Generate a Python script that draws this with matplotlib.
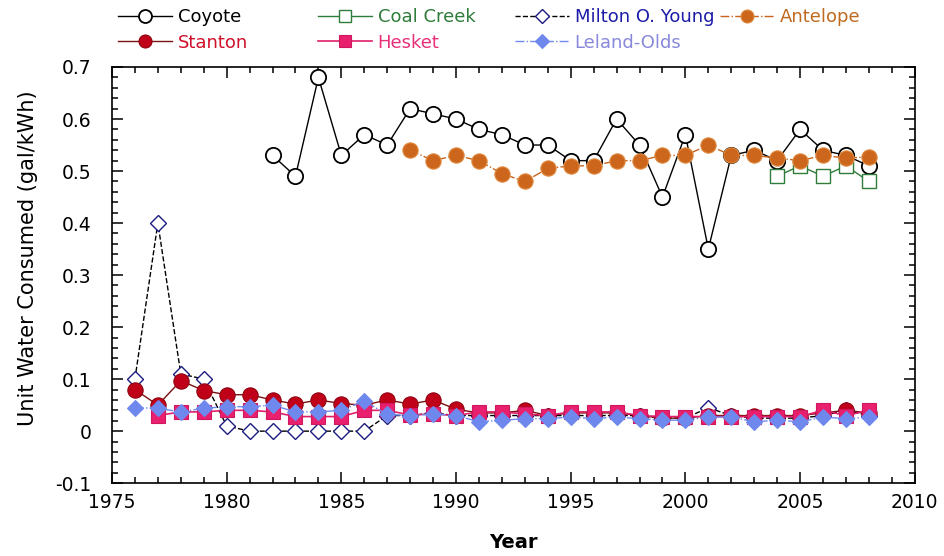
import matplotlib.pyplot as plt
from matplotlib.ticker import MultipleLocator

# Unit water consumption by plant (gal/kWh)
yrs_coyote = list(range(1982, 2009))
coyote = [0.53, 0.49, 0.68, 0.53, 0.57, 0.55, 0.62, 0.61, 0.60, 0.58, 0.57, 0.55, 0.55, 0.52,
          0.52, 0.60, 0.55, 0.45, 0.57, 0.35, 0.53, 0.54, 0.52, 0.58, 0.54, 0.53, 0.51]

yrs_coal = list(range(2004, 2009))
coal_creek = [0.49, 0.51, 0.49, 0.51, 0.48]

yrs_milton = list(range(1976, 2009))
milton = [0.10, 0.40, 0.11, 0.10, 0.01, 0.0, 0.0, 0.0, 0.0, 0.0, 0.0, 0.03, 0.03, 0.035,
          0.03, 0.03, 0.03, 0.03, 0.03, 0.03, 0.03, 0.03, 0.03, 0.025, 0.025, 0.045, 0.03,
          0.025, 0.025, 0.025, 0.03, 0.04, 0.03]

yrs_antelope = list(range(1988, 2009))
antelope = [0.54, 0.52, 0.53, 0.52, 0.495, 0.48, 0.505, 0.51, 0.51, 0.52, 0.52, 0.53, 0.53,
            0.55, 0.53, 0.53, 0.525, 0.52, 0.53, 0.525, 0.527]

yrs_stanton = list(range(1976, 2009))
stanton = [0.08, 0.05, 0.097, 0.078, 0.07, 0.07, 0.06, 0.052, 0.06, 0.053, 0.05, 0.06, 0.052,
           0.06, 0.042, 0.035, 0.035, 0.04, 0.03, 0.035, 0.035, 0.035, 0.03, 0.025, 0.025,
           0.03, 0.03, 0.03, 0.03, 0.03, 0.035, 0.04, 0.035]

yrs_hesket = list(range(1977, 2009))
hesket = [0.03, 0.037, 0.037, 0.04, 0.04, 0.037, 0.028, 0.028, 0.028, 0.04, 0.04, 0.031,
          0.033, 0.03, 0.037, 0.037, 0.033, 0.03, 0.037, 0.037, 0.037, 0.03, 0.028, 0.028,
          0.028, 0.028, 0.028, 0.028, 0.028, 0.04, 0.03, 0.04]

yrs_leland = list(range(1976, 2009))
leland = [0.045, 0.044, 0.037, 0.044, 0.047, 0.047, 0.05, 0.037, 0.037, 0.04, 0.058, 0.032,
          0.03, 0.033, 0.03, 0.018, 0.021, 0.024, 0.024, 0.027, 0.024, 0.027, 0.024, 0.021,
          0.021, 0.027, 0.027, 0.018, 0.021, 0.018, 0.027, 0.024, 0.027]

plt.rcParams['font.family'] = 'DejaVu Sans'

fig = plt.figure(figsize=(9.45, 5.56), dpi=100)
ax = fig.add_axes([0.1185, 0.131, 0.8495, 0.7485])

h_coyote, = ax.plot(yrs_coyote, coyote, color='black', lw=1, marker='o', ms=11,
                    mfc='white', mec='black', mew=1.3, label='Coyote', zorder=3)
h_coal, = ax.plot(yrs_coal, coal_creek, color='#2e7d3a', lw=1, marker='s', ms=10,
                  mfc='white', mec='#2e7d3a', mew=1, label='Coal Creek', zorder=3)
h_ant, = ax.plot(yrs_antelope, antelope, color='#c8641e', lw=1, ls='-.', marker='o', ms=11,
                 mfc='#cc661c', mec='#e08a40', mew=0.8, label='Antelope', zorder=4)
h_milton, = ax.plot(yrs_milton, milton, color='black', lw=1, ls='--', marker='D', ms=8,
                    mfc='white', mec='#1c1c80', mew=1, label='Milton O. Young', zorder=4)
h_stanton, = ax.plot(yrs_stanton, stanton, color='#7a1010', lw=1, marker='o', ms=11,
                     mfc='#c00018', mec='#900010', mew=0.8, label='Stanton', zorder=5)
h_hesket, = ax.plot(yrs_hesket, hesket, color='#e0206a', lw=1.2, marker='s', ms=10,
                    mfc='#e8206e', mec='#d01860', mew=0.8, label='Hesket', zorder=6)
h_leland, = ax.plot(yrs_leland, leland, color='#6f88ee', lw=1, ls='-.', marker='D', ms=8,
                    mfc='#6f88ee', mec='#6f88ee', mew=0.8, label='Leland-Olds', zorder=7)

ax.set_xlim(1975, 2010)
ax.set_ylim(-0.1, 0.7)
ax.xaxis.set_major_locator(MultipleLocator(5))
ax.xaxis.set_minor_locator(MultipleLocator(1))
ax.yaxis.set_major_locator(MultipleLocator(0.1))
ax.yaxis.set_minor_locator(MultipleLocator(0.02))
ax.set_yticks([-0.1, 0, 0.1, 0.2, 0.3, 0.4, 0.5, 0.6, 0.7])
ax.set_yticklabels(['-0.1', '0', '0.1', '0.2', '0.3', '0.4', '0.5', '0.6', '0.7'])
ax.tick_params(which='both', direction='in', top=True, right=True, width=1.1, labelsize=13.5)
ax.tick_params(which='major', length=8)
ax.tick_params(which='minor', length=4)
ax.tick_params(axis='y', pad=15)
ax.tick_params(axis='x', pad=7)
for s in ax.spines.values():
    s.set_linewidth(1.2)

ax.set_ylabel('Unit Water Consumed (gal/kWh)', fontsize=15)
ax.yaxis.set_label_coords(-0.092, 0.54)
ax.set_xlabel('Year', fontsize=14, fontweight='bold')
ax.xaxis.set_label_coords(0.5, -0.12)

# legend: four columns placed by hand above the axes
cols = [
    ([h_coyote, h_stanton], ['black', '#d0102a'], 118),
    ([h_coal, h_hesket], ['#2e7d3a', '#e8307a'], 318),
    ([h_milton, h_leland], ['#1c1ca8', '#8888dd'], 515),
    ([h_ant], ['#c06a20'], 720),
]
for handles, colors, xpix in cols:
    fig.legend(handles=handles, labels=[h.get_label() for h in handles],
               loc='upper left', bbox_to_anchor=(xpix / 945, 0.985), frameon=False,
               fontsize=13, handlelength=3.0, handletextpad=0.3, borderpad=0,
               borderaxespad=0, labelspacing=0.4, numpoints=1, labelcolor=colors,
               markerscale=0.85)

fig.savefig('out.png', dpi=100)
